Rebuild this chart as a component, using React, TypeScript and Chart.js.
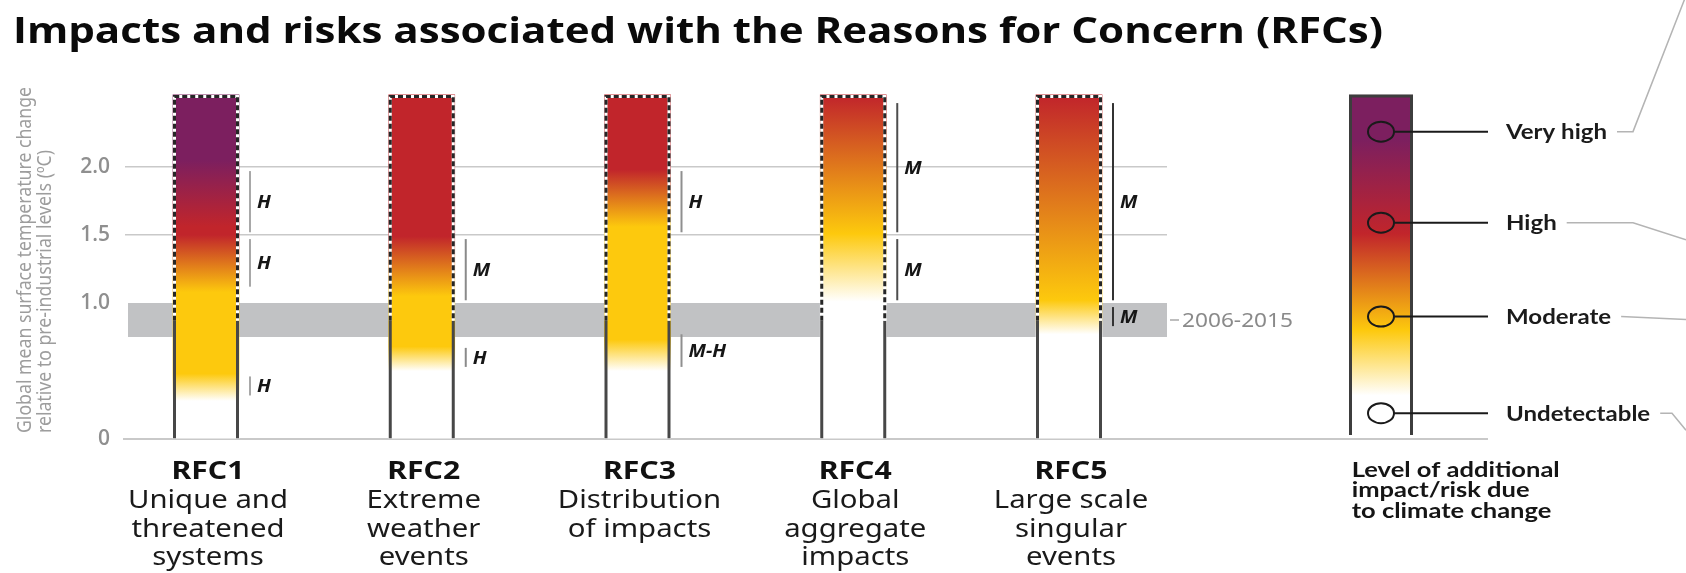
import React, { useEffect, useRef } from 'react';
import { Chart, registerables } from 'chart.js';

Chart.register(...registerables);

// ---------------- data ----------------
const titleText = 'Impacts and risks associated with the Reasons for Concern (RFCs)';
const yAxisTitle = ['Global mean surface temperature change', 'relative to pre-industrial levels (ºC)'];

const rfcCodes = ['RFC1', 'RFC2', 'RFC3', 'RFC4', 'RFC5'];
const rfcNames = [
  ['Unique and', 'threatened', 'systems'],
  ['Extreme', 'weather', 'events'],
  ['Distribution', 'of impacts'],
  ['Global', 'aggregate', 'impacts'],
  ['Large scale', 'singular', 'events'],
];
const rfcPositions = [1, 2, 3, 4, 5];

const yTicks = [0, 1.0, 1.5, 2.0];
const yMaxWarming = 2.6;
const barTopWarming = 2.53;
const observedWarming = 0.87; // outline is solid up to present-day warming
const band2006to2015 = [0.75, 1.0];
const bandLabel = '2006-2015';

// colour transitions along each bar: [warming °C, risk level]
const rfc1Transitions = [[0.28, 'U'], [0.48, 'M'], [1.08, 'M'], [1.5, 'H'], [1.56, 'H'], [2.05, 'VH']];
const rfc2Transitions = [[0.5, 'U'], [0.68, 'M'], [1.05, 'M'], [1.49, 'H']];
const rfc3Transitions = [[0.5, 'U'], [0.73, 'M'], [1.56, 'M'], [1.98, 'H']];
const rfc4Transitions = [[1.01, 'U'], [1.51, 'M'], [2.52, 'H']];
const rfc5Transitions = [[0.77, 'U'], [1.02, 'M'], [2.52, 'H']];
const rfcTransitions = [rfc1Transitions, rfc2Transitions, rfc3Transitions, rfc4Transitions, rfc5Transitions];

// confidence brackets: [from °C, to °C, confidence]
const rfc1Confidence = [[0.32, 0.46, 'H'], [1.12, 1.47, 'H'], [1.52, 1.97, 'H']];
const rfc2Confidence = [[0.53, 0.67, 'H'], [1.02, 1.47, 'M']];
const rfc3Confidence = [[0.53, 0.77, 'M-H'], [1.52, 1.97, 'H']];
const rfc4Confidence = [[1.02, 1.47, 'M'], [1.52, 2.47, 'M']];
const rfc5Confidence = [[0.83, 0.97, 'M'], [1.02, 2.47, 'M']];
const rfcConfidence = [rfc1Confidence, rfc2Confidence, rfc3Confidence, rfc4Confidence, rfc5Confidence];

// legend
const legendLabels = ['Very high', 'High', 'Moderate', 'Undetectable'];
const legendMarkerWarming = [2.26, 1.59, 0.9, 0.19];
const legendTransitions = [[0.32, 'U'], [0.8, 'M'], [1.51, 'H'], [2.2, 'VH']];
const legendCaption = ['Level of additional', 'impact/risk due', 'to climate change'];

// ---------------- styles ----------------
const levelColors: Record<string, string> = {
  U: '#ffffff',
  M: '#fdc90d',
  H: '#c1252b',
  VH: '#7c1f5f',
};
const bracketColors = ['#a8a8a8', '#8a8a8a', '#8f8f8f', '#4d4d4d', '#333333'];

function makeGradient(ctx: CanvasRenderingContext2D, y: any, stops: any[], topVal: number) {
  const p0 = y.getPixelForValue(0);
  const p1 = y.getPixelForValue(topVal);
  if (!Number.isFinite(p0) || !Number.isFinite(p1) || p0 === p1) return levelColors[stops[0][1]];
  const g = ctx.createLinearGradient(0, p0, 0, p1);
  g.addColorStop(0, levelColors[stops[0][1]]);
  for (const [v, lvl] of stops) {
    g.addColorStop(Math.min(1, Math.max(0, v / topVal)), levelColors[lvl]);
  }
  g.addColorStop(1, levelColors[stops[stops.length - 1][1]]);
  return g;
}

function fitScale(ctx: CanvasRenderingContext2D, font: string, ref: string, target: number) {
  ctx.save();
  ctx.font = font;
  const w = ctx.measureText(ref).width;
  ctx.restore();
  return w > 0 ? target / w : 1;
}

function drawScaled(
  ctx: CanvasRenderingContext2D, text: string, x: number, y: number, font: string,
  sx: number, align: CanvasTextAlign, color: string, baseline: CanvasTextBaseline = 'alphabetic'
) {
  ctx.save();
  ctx.font = font;
  ctx.fillStyle = color;
  ctx.textAlign = align;
  ctx.textBaseline = baseline;
  ctx.translate(x, y);
  ctx.scale(sx, 1);
  ctx.fillText(text, 0, 0);
  const w = ctx.measureText(text).width * sx;
  ctx.restore();
  return w;
}

function line(ctx: CanvasRenderingContext2D, pts: number[][]) {
  ctx.beginPath();
  ctx.moveTo(pts[0][0], pts[0][1]);
  for (let i = 1; i < pts.length; i++) ctx.lineTo(pts[i][0], pts[i][1]);
  ctx.stroke();
}

const LEGEND_X = 1381;
const LEGEND_W = 64;
const LEGEND_LINE_END = 1488;
const LEGEND_TEXT_X = 1506;

const overlayPlugin = {
  id: 'rfcOverlay',
  beforeDatasetsDraw(chart: any) {
    const { ctx, chartArea, scales } = chart;
    const y = scales.y;
    const yTop = y.getPixelForValue(band2006to2015[1]);
    const yBot = y.getPixelForValue(band2006to2015[0]);
    ctx.save();
    ctx.fillStyle = '#c1c2c4';
    ctx.fillRect(chartArea.left + 3, yTop, chartArea.right - chartArea.left - 3, yBot - yTop);
    const mid = (yTop + yBot) / 2;
    ctx.strokeStyle = '#a8a8a8';
    ctx.lineWidth = 1.5;
    line(ctx, [[chartArea.right + 3, mid], [chartArea.right + 12, mid]]);
    const fB = '20px "Noto Sans"';
    drawScaled(ctx, bandLabel, chartArea.right + 15, mid + 7, fB, fitScale(ctx, fB, bandLabel, 111), 'left', '#8a8a8a');
    // zero line
    const y0 = y.getPixelForValue(0);
    ctx.strokeStyle = '#c9c9c9';
    ctx.lineWidth = 2;
    line(ctx, [[chartArea.left - 2, y0], [LEGEND_LINE_END, y0]]);

    // y-axis title (two lines, rotated, start-aligned at the bottom)
    const fY = '20px "Noto Sans"';
    const sY = fitScale(ctx, fY, yAxisTitle[0], 346);
    const lineX = [25.5, 45.5];
    yAxisTitle.forEach((t, k) => {
      ctx.save();
      ctx.translate(lineX[k], y0 - 6);
      ctx.rotate(-Math.PI / 2);
      drawScaled(ctx, t, 0, 0, fY, sY, 'left', '#9d9d9d', 'middle');
      ctx.restore();
    });
    ctx.restore();
  },
  afterDatasetsDraw(chart: any) {
    const { ctx, scales } = chart;
    const y = scales.y;
    const y0 = y.getPixelForValue(0);
    const yObs = y.getPixelForValue(observedWarming);
    const meta = chart.getDatasetMeta(0);
    ctx.save();

    const fCode = 'bold 25px "Noto Sans"';
    const fName = '25px "Noto Sans"';
    const sCode = fitScale(ctx, fCode, 'RFC1', 73);
    const sName = fitScale(ctx, fName, 'Unique and', 160);
    const fConf = 'italic bold 18px "Noto Sans"';

    meta.data.forEach((el: any, i: number) => {
      const p = el.getProps(['x', 'y', 'base', 'width'], true);
      const left = p.x - p.width / 2 + 1.5;
      const right = p.x + p.width / 2 - 1.5;
      const top = p.y + 1.5;
      ctx.setLineDash([]);
      ctx.lineWidth = 3;
      ctx.strokeStyle = '#474747';
      line(ctx, [[left, p.base], [left, yObs]]);
      line(ctx, [[right, p.base], [right, yObs]]);
      const path = [[left, yObs], [left, top], [right, top], [right, yObs]];
      ctx.strokeStyle = '#ffffff';
      line(ctx, path);
      ctx.setLineDash([5, 3]);
      ctx.strokeStyle = '#262626';
      line(ctx, path);
      ctx.setLineDash([]);

      const bx = p.x + p.width / 2 + 11;
      rfcConfidence[i].forEach(([a, b, lab]: any) => {
        const ya = y.getPixelForValue(a);
        const yb = y.getPixelForValue(b);
        ctx.strokeStyle = bracketColors[i];
        ctx.lineWidth = 2;
        line(ctx, [[bx, ya], [bx, yb]]);
        drawScaled(ctx, lab, bx + 7, (ya + yb) / 2 + 6.5, fConf, 1.1, 'left', '#161616');
      });

      drawScaled(ctx, rfcCodes[i], p.x + 2, y0 + 40.3, fCode, sCode, 'center', '#111111');
      rfcNames[i].forEach((t, k) => {
        drawScaled(ctx, t, p.x + 2, y0 + 69.3 + k * 28.3, fName, sName, 'center', '#1a1a1a');
      });
    });

    // ---- legend ----
    const lTop = y.getPixelForValue(barTopWarming);
    const lBot = y0 - 4;
    const lx0 = LEGEND_X - LEGEND_W / 2;
    const lx1 = LEGEND_X + LEGEND_W / 2;
    ctx.fillStyle = makeGradient(ctx, y, legendTransitions, barTopWarming);
    ctx.fillRect(lx0, lTop, LEGEND_W, lBot - lTop);
    ctx.strokeStyle = '#3d3d3d';
    ctx.lineWidth = 3;
    line(ctx, [[lx0 + 1.5, lBot], [lx0 + 1.5, lTop + 1], [lx1 - 1.5, lTop + 1], [lx1 - 1.5, lBot]]);

    const fLeg = 'bold 21px Lato';
    const sLeg = fitScale(ctx, fLeg, 'Very high', 101);
    const connectors = [
      (x: number, yy: number) => [[x, yy], [1633, yy], [1686, yy - 136]],
      (x: number, yy: number) => [[x, yy], [1633, yy], [1686, yy + 17]],
      (x: number, yy: number) => [[x, yy], [1686, yy + 3]],
      (x: number, yy: number) => [[x, yy], [1672, yy], [1686, yy + 17]],
    ];
    legendLabels.forEach((lab, k) => {
      const yy = y.getPixelForValue(legendMarkerWarming[k]);
      ctx.strokeStyle = '#1a1a1a';
      ctx.lineWidth = 2;
      ctx.beginPath();
      ctx.ellipse(LEGEND_X, yy, 13, 10, 0, 0, Math.PI * 2);
      ctx.stroke();
      line(ctx, [[LEGEND_X + 13, yy], [LEGEND_LINE_END, yy]]);
      const w = drawScaled(ctx, lab, LEGEND_TEXT_X, yy + 7.5, fLeg, sLeg, 'left', '#1b1b1b');
      ctx.strokeStyle = '#b4b4b4';
      ctx.lineWidth = 1.5;
      line(ctx, connectors[k](LEGEND_TEXT_X + w + 10, yy));
    });

    const fCap = 'bold 21px Lato';
    const sCap = fitScale(ctx, fCap, legendCaption[0], 208);
    legendCaption.forEach((t, k) => {
      drawScaled(ctx, t, 1351.7, 476.7 + k * 20.6, fCap, sCap, 'left', '#151515');
    });

    const fTitle = 'bold 35px "Open Sans"';
    drawScaled(ctx, titleText, 13, 43.3, fTitle, fitScale(ctx, fTitle, titleText, 1370), 'left', '#0a0a0a');

    ctx.restore();
  },
};

export default function App() {
  const ref = useRef<HTMLCanvasElement | null>(null);

  useEffect(() => {
    if (!ref.current) return;
    const chart = new Chart(ref.current, {
      type: 'bar',
      data: {
        datasets: [
          {
            data: rfcPositions.map((x) => ({ x, y: barTopWarming })),
            barThickness: 66,
            borderWidth: 0,
            backgroundColor: (c: any) => {
              const ch = c.chart;
              const y = ch.scales && ch.scales.y;
              if (!y || c.dataIndex === undefined || !ch.chartArea) return '#ffffff';
              return makeGradient(ch.ctx, y, rfcTransitions[c.dataIndex], barTopWarming);
            },
          } as any,
        ],
      },
      options: {
        responsive: false,
        devicePixelRatio: 1,
        animation: false,
        events: [],
        layout: { padding: { top: 85.4, bottom: 134, left: 0, right: 519 } },
        plugins: { legend: { display: false }, tooltip: { enabled: false } },
        scales: {
          x: {
            type: 'linear',
            min: 0.6246,
            max: 5.4542,
            offset: false,
            display: false,
          },
          y: {
            type: 'linear',
            min: 0,
            max: yMaxWarming,
            afterBuildTicks: (scale: any) => {
              scale.ticks = yTicks.map((v) => ({ value: v }));
            },
            afterFit: (scale: any) => {
              scale.width = 125;
            },
            border: { display: false },
            grid: {
              drawTicks: false,
              lineWidth: 1.5,
              color: (c: any) => (c.tick && (c.tick.value === 0 || c.tick.value === 1) ? 'rgba(0,0,0,0)' : '#c9c9c9'),
            },
            ticks: {
              padding: 15,
              color: '#8f8f8f',
              font: { family: 'Open Sans', weight: '600', size: 21 },
              callback: (v: any) => (v === 0 ? '0' : Number(v).toFixed(1)),
            },
            title: { display: false },
          },
        },
      },
      plugins: [overlayPlugin],
    } as any);
    return () => chart.destroy();
  }, []);

  return (
    <div style={{ position: 'fixed', left: 0, top: 0, width: 1686, height: 573, background: '#ffffff' }}>
      <canvas ref={ref} width={1686} height={573} style={{ display: 'block' }} />
    </div>
  );
}
